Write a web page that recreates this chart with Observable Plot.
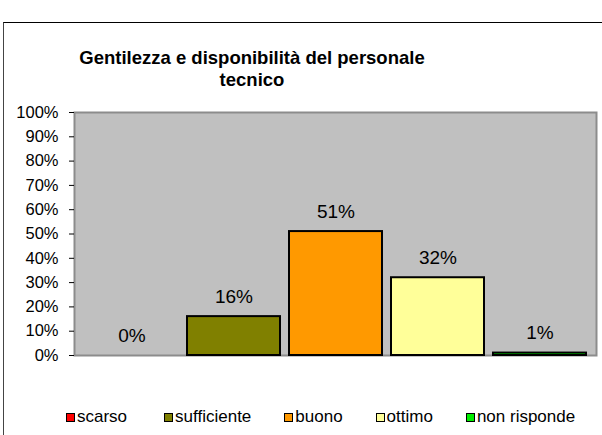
<!DOCTYPE html>
<html>
<head>
<meta charset="utf-8">
<script src="https://cdn.jsdelivr.net/npm/d3@7"></script>
<script src="https://cdn.jsdelivr.net/npm/@observablehq/plot@0.6"></script>
<style>
  html, body { margin: 0; padding: 0; background: #fff; }
  #wrap { position: relative; width: 602px; height: 435px; overflow: hidden; font-family: "Liberation Sans", Arial, sans-serif; }
  #border { position: absolute; left: 3px; top: 22px; width: 640px; height: 460px; border-left: 1px solid #444; border-top: 1px solid #000; }
  #title { position: absolute; left: 0; top: 47px; width: 504px; text-align: center; font-weight: bold; font-size: 18.5px; line-height: 22px; color: #000; }
  #chart { position: absolute; left: 0; top: 0; }
  #legend { position: absolute; left: 66px; top: 407px; display: flex; gap: 33px; font-size: 17px; color: #000; }
  #legend .item:first-child { margin-right: 4px; }
  .item { display: flex; align-items: center; gap: 2px; }
  .sw { width: 7px; height: 7px; border: 1.5px solid #000; }
</style>
</head>
<body>
<div id="wrap">
  <div id="border"></div>
  <div id="chart"></div>
  <div id="title">Gentilezza e disponibilità del personale<br>tecnico</div>
  <div id="legend"></div>
</div>
<script>
const categories = ["scarso", "sufficiente", "buono", "ottimo", "non risponde"];
const values = [0, 0.16, 0.51, 0.32, 0.01];
const valueLabels = ["0%", "16%", "51%", "32%", "1%"];
const colors = ["#ff0000", "#808000", "#ff9900", "#ffff99", "#00ee00"];
const yTickValues = [0, 0.1, 0.2, 0.3, 0.4, 0.5, 0.6, 0.7, 0.8, 0.9, 1];
const yTickLabels = ["0%", "10%", "20%", "30%", "40%", "50%", "60%", "70%", "80%", "90%", "100%"];

const data = categories.map((c, i) => ({cat: c, v: values[i], label: valueLabels[i], color: colors[i]}));

const chart = Plot.plot({
  width: 602,
  height: 435,
  marginLeft: 74,
  marginRight: 6,
  marginTop: 112,
  marginBottom: 80,
  style: {fontFamily: "'Liberation Sans', Arial, sans-serif", color: "#000", background: "transparent", overflow: "visible"},
  x: {domain: categories, padding: 0.09, axis: null},
  y: {domain: [0, 1], axis: null},
  color: {type: "identity"},
  marks: [
    Plot.frame({fill: "#c0c0c0", stroke: "#8c8c8c", strokeWidth: 2}),
    Plot.barY(data.filter(d => d.v > 0), {x: "cat", y: "v", fill: "color", stroke: "#000", strokeWidth: 2}),
    Plot.axisY({
      ticks: yTickValues,
      tickFormat: (d) => yTickLabels[yTickValues.findIndex(t => Math.abs(t - d) < 1e-9)],
      tickSize: 5,
      tickPadding: 11,
      fontSize: 16.5,
      stroke: "#000",
      fill: "#000",
      label: null
    }),
    Plot.ruleX([0], {frameAnchor: "left", stroke: "#000", strokeWidth: 1, y1: 0, y2: 1}),
    Plot.text(data, {x: "cat", y: "v", text: "label", dy: -20, fontSize: 19, fill: "#000", lineAnchor: "middle"})
  ]
});
document.getElementById("chart").appendChild(chart);

const legend = document.getElementById("legend");
categories.forEach((c, i) => {
  const item = document.createElement("div");
  item.className = "item";
  const sw = document.createElement("div");
  sw.className = "sw";
  sw.style.background = colors[i];
  const t = document.createElement("span");
  t.textContent = c;
  item.appendChild(sw);
  item.appendChild(t);
  legend.appendChild(item);
});
</script>
</body>
</html>
